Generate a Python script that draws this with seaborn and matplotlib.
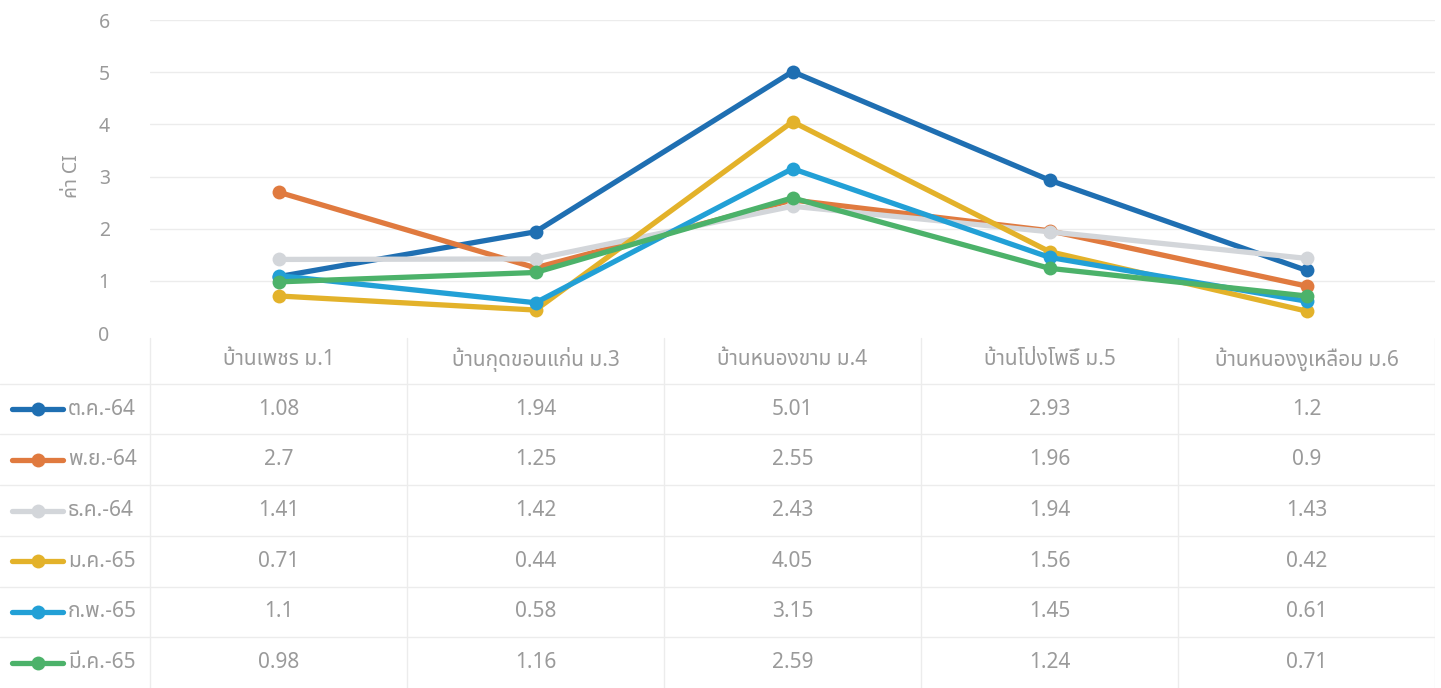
import matplotlib
matplotlib.use("Agg")
import matplotlib.pyplot as plt
import pandas as pd
import seaborn as sns

sites = ["บ้านเพชร ม.1", "บ้านกุดขอนแก่น ม.3", "บ้านหนองขาม ม.4", "บ้านโป่งโพธิ์ ม.5", "บ้านหนองงูเหลือม ม.6"]
months = ["ต.ค.-64", "พ.ย.-64", "ธ.ค.-64", "ม.ค.-65", "ก.พ.-65", "มี.ค.-65"]
oct_64 = [1.08, 1.94, 5.01, 2.93, 1.2]
nov_64 = [2.7, 1.25, 2.55, 1.96, 0.9]
dec_64 = [1.41, 1.42, 2.43, 1.94, 1.43]
jan_65 = [0.71, 0.44, 4.05, 1.56, 0.42]
feb_65 = [1.1, 0.58, 3.15, 1.45, 0.61]
mar_65 = [0.98, 1.16, 2.59, 1.24, 0.71]
series = [oct_64, nov_64, dec_64, jan_65, feb_65, mar_65]
colors = ["#1f6fb2", "#e07a3f", "#d3d6da", "#e3b22a", "#22a0d6", "#4cb26a"]
y_ticks = [0, 1, 2, 3, 4, 5, 6]
y_label = "ค่า CI"

TEXT = "#9a9a9a"
GRID = "#ececec"
FS = 15
LW = 3.8
MS = 10

sns.set_theme(style="white")
plt.rcParams["font.family"] = ["Noto Sans Thai", "Sarabun", "DejaVu Sans"]

df = pd.DataFrame(
    [(m, s, v) for m, vals in zip(months, series) for s, v in zip(sites, vals)],
    columns=["month", "site", "ci"],
)

W, H = 1441, 688
fig = plt.figure(figsize=(W / 100, H / 100), dpi=100)

# chart area: x 150..1435 px, y 20..333 px
ax = fig.add_axes([150 / W, 1 - 333 / H, 1285 / W, 313 / H])
sns.lineplot(
    data=df, x="site", y="ci", hue="month", hue_order=months,
    palette=colors, marker="o", markersize=MS, markeredgewidth=0,
    linewidth=LW, sort=False, legend=False, ax=ax,
)
ax.set_xlim(-0.5, len(sites) - 0.5)
ax.set_ylim(0, 6)
ax.set_yticks(y_ticks)
ax.set_yticklabels([str(t) for t in y_ticks], color=TEXT, fontsize=14)
ax.set_xticks([])
ax.set_xlabel("")
ax.set_ylabel(y_label, color=TEXT, fontsize=14, labelpad=12)
ax.tick_params(axis="y", length=0, pad=29)
for t in y_ticks[1:]:
    ax.axhline(t, color=GRID, lw=1, zorder=0)
for sp in ax.spines.values():
    sp.set_visible(False)

# data table below the chart: 7 rows from 333 px to 688 px
left_unit = -0.5 - 150 / 257
tab = fig.add_axes([0, 0, 1435 / W, 355 / H])
tab.set_xlim(left_unit, len(sites) - 0.5)
tab.set_ylim(len(months) + 1, 0)
tab.axis("off")

n_rows = len(months) + 1
for i in range(len(sites) + 1):
    tab.plot([i - 0.5, i - 0.5], [0.1, n_rows], color=GRID, lw=1)
for r in range(1, n_rows):
    tab.plot([left_unit, len(sites) - 0.5], [r, r], color=GRID, lw=1)

for j, s in enumerate(sites):
    tab.text(j, 0.52, s, ha="center", va="center", color=TEXT, fontsize=FS)

px = lambda p: (p - 150) / 257 - 0.5
for r, (m, vals, c) in enumerate(zip(months, series, colors), start=1):
    y = r + 0.5
    tab.plot([px(12), px(63)], [y, y], color=c, lw=LW, solid_capstyle="round")
    tab.plot([px(38)], [y], marker="o", color=c, markersize=MS, markeredgewidth=0)
    tab.text(px(68), y, m, ha="left", va="center", color=TEXT, fontsize=FS)
    for j, v in enumerate(vals):
        tab.text(j, y, f"{v:g}", ha="center", va="center", color=TEXT, fontsize=FS)

fig.savefig("out.png", dpi=100)
